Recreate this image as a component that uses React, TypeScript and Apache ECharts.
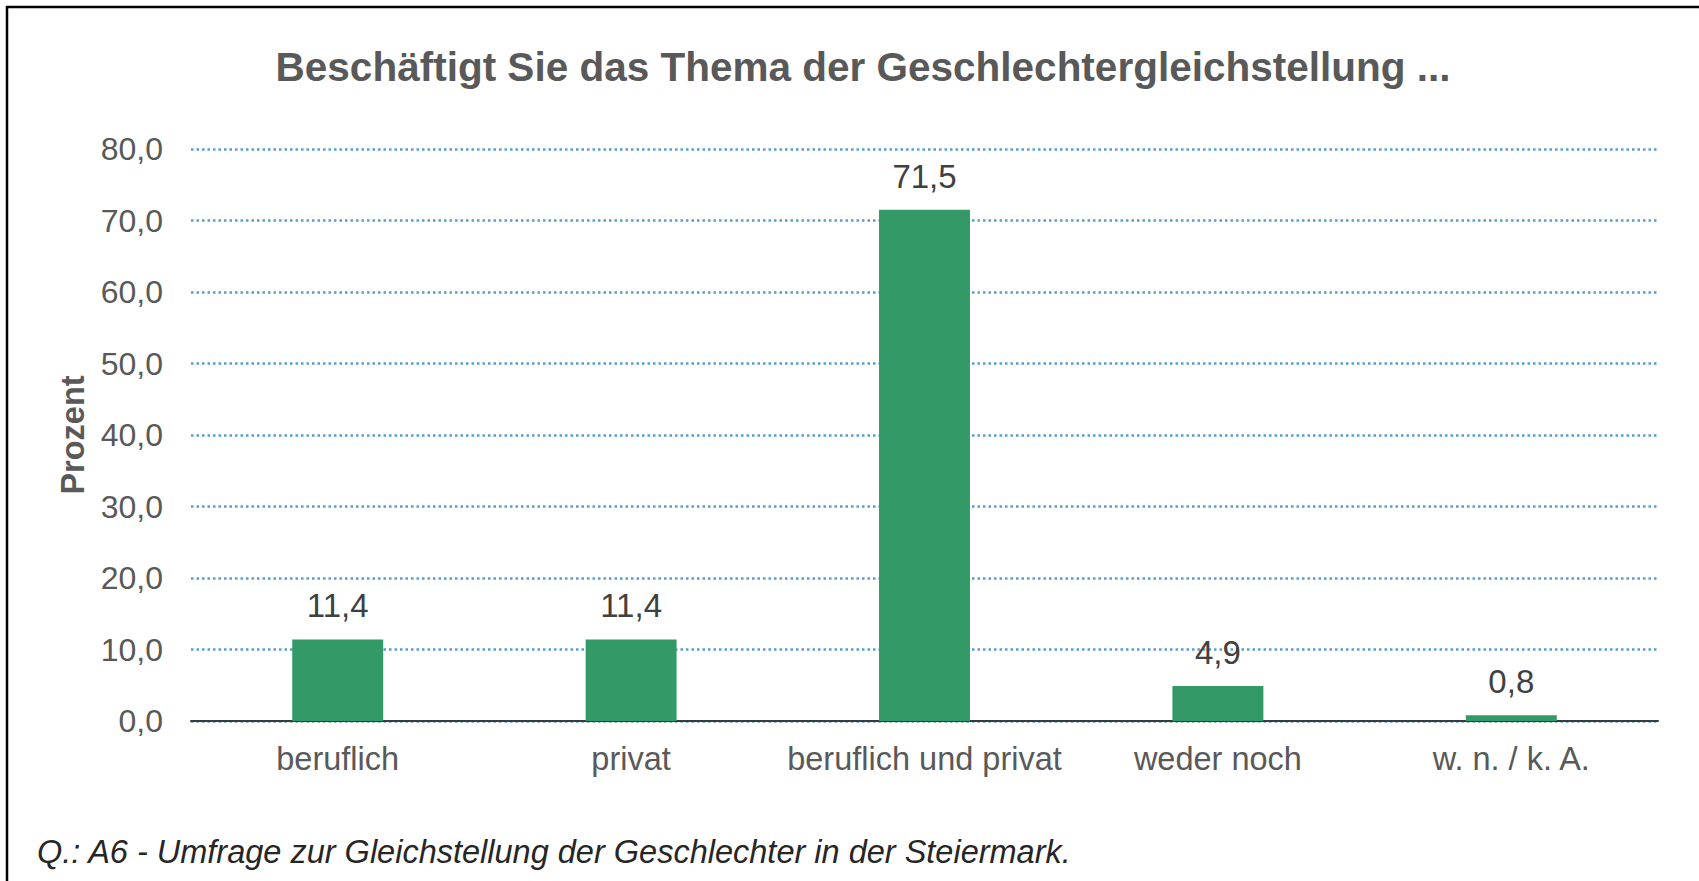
import React, { useEffect, useRef } from "react";
import * as echarts from "echarts";

const categories = ["beruflich", "privat", "beruflich und privat", "weder noch", "w. n. / k. A."];
const values = [11.4, 11.4, 71.5, 4.9, 0.8];
const yTicks = [0, 10, 20, 30, 40, 50, 60, 70, 80];
const titleText = "Beschäftigt Sie das Thema der Geschlechtergleichstellung ...";
const yAxisName = "Prozent";
const footnote = "Q.: A6 - Umfrage zur Gleichstellung der Geschlechter in der Steiermark.";

const FONT = "'Liberation Sans', Arial, sans-serif";
const fmt = (v: number) => v.toFixed(1).replace(".", ",");

export default function App() {
  const ref = useRef<HTMLDivElement>(null);
  useEffect(() => {
    if (!ref.current) return;
    const chart = echarts.init(ref.current, undefined, { renderer: "svg" });
    chart.setOption({
      animation: false,
      backgroundColor: "#ffffff",
      grid: { left: 191, right: 41, top: 149, bottom: 160, containLabel: false },
      xAxis: {
        type: "category",
        data: categories,
        axisLine: { show: true, lineStyle: { color: "#3a3a3a", width: 2 } },
        axisTick: { show: false },
        axisLabel: { fontFamily: FONT, fontSize: 32.5, color: "#595959", margin: 21, interval: 0 },
      },
      yAxis: {
        type: "value",
        min: yTicks[0],
        max: yTicks[yTicks.length - 1],
        interval: 10,
        name: yAxisName,
        nameLocation: "middle",
        nameRotate: 90,
        nameGap: 102,
        nameTextStyle: { fontFamily: FONT, fontSize: 32.5, fontWeight: "bold", color: "#595959" },
        axisLine: { show: false },
        axisTick: { show: false },
        axisLabel: { fontFamily: FONT, fontSize: 32, color: "#595959", margin: 28, formatter: (v: number) => fmt(v) },
        splitLine: { show: true, lineStyle: { color: "#5B9BD5", width: 2.5, type: [2.5, 3] } },
      },
      series: [
        {
          type: "bar",
          data: values,
          barWidth: "31%",
          itemStyle: { color: "#339966" },
          label: {
            show: true,
            position: "top",
            distance: 17,
            fontFamily: FONT,
            fontSize: 33,
            color: "#404040",
            formatter: (p: any) => fmt(p.value),
          },
        },
      ],
      graphic: [
        {
          type: "line",
          shape: { x1: 6, y1: 7, x2: 1699, y2: 7 },
          style: { stroke: "#000000", lineWidth: 2.5 },
        },
        {
          type: "line",
          shape: { x1: 7, y1: 6, x2: 7, y2: 881 },
          style: { stroke: "#000000", lineWidth: 2.5 },
        },
        {
          type: "text",
          x: 863,
          y: 67,
          style: {
            text: titleText,
            fontFamily: FONT,
            fontSize: 40.5,
            fontWeight: "bold",
            fill: "#595959",
            align: "center",
            verticalAlign: "middle",
          },
        },
        {
          type: "text",
          x: 37,
          y: 852,
          style: {
            text: footnote,
            fontFamily: FONT,
            fontSize: 32.5,
            fontStyle: "italic",
            fill: "#262626",
            align: "left",
            verticalAlign: "middle",
          },
        },
      ],
    });
    return () => chart.dispose();
  }, []);
  return <div ref={ref} style={{ position: "fixed", left: 0, top: 0, width: 1699, height: 881 }} />;
}
